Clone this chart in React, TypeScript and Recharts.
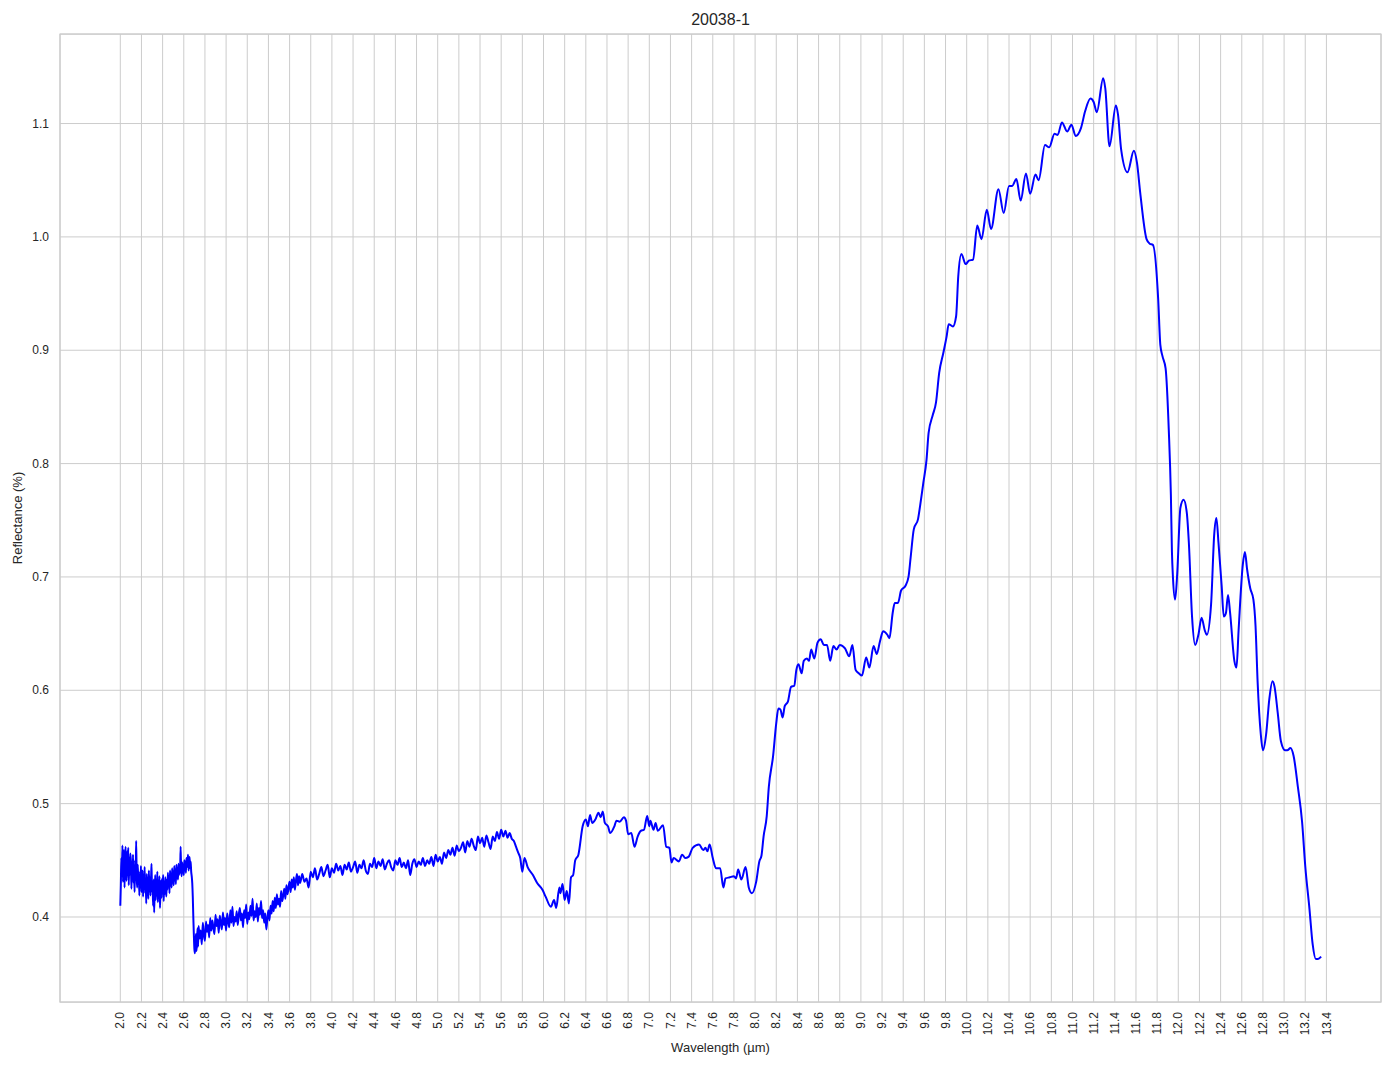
import React from "react";
import { CartesianGrid, Line, LineChart, ReferenceArea, XAxis, YAxis } from "recharts";

const FONT = '"Liberation Sans", Arial, sans-serif';
const TEXT = "#262626";
const GRID = "#cccccc";

// 2.000 – 2.735 µm, sampled every 0.005 µm (very noisy detector edge)
const shortwaveStart = 2.0;
const shortwaveStep = 0.005;
const shortwaveRefl = [
  0.41, 0.428, 0.452, 0.438, 0.463, 0.431, 0.447, 0.459, 0.426, 0.45,
  0.462, 0.44, 0.432, 0.458, 0.445, 0.461, 0.428, 0.452, 0.437, 0.456,
  0.449, 0.425, 0.444, 0.433, 0.455, 0.43, 0.441, 0.422, 0.45, 0.438,
  0.467, 0.434, 0.426, 0.446, 0.431, 0.44, 0.419, 0.437, 0.428, 0.445,
  0.422, 0.434, 0.441, 0.418, 0.436, 0.427, 0.444, 0.421, 0.433, 0.412,
  0.438, 0.425, 0.43, 0.416, 0.441, 0.423, 0.435, 0.419, 0.431, 0.447,
  0.422, 0.428, 0.41, 0.433, 0.404, 0.426, 0.437, 0.415, 0.429, 0.421,
  0.44, 0.413, 0.431, 0.419, 0.436, 0.408, 0.425, 0.432, 0.417, 0.434,
  0.423, 0.437, 0.414, 0.429, 0.42, 0.435, 0.426, 0.418, 0.433, 0.424,
  0.439, 0.427, 0.436, 0.421, 0.441, 0.43, 0.437, 0.426, 0.443, 0.432,
  0.438, 0.428, 0.445, 0.434, 0.441, 0.429, 0.446, 0.436, 0.442, 0.433,
  0.447, 0.437, 0.444, 0.439, 0.462, 0.441, 0.436, 0.448, 0.44, 0.446,
  0.437, 0.45, 0.443, 0.449, 0.439, 0.452, 0.444, 0.447, 0.455, 0.441,
  0.448, 0.453, 0.443, 0.449, 0.44, 0.436, 0.43, 0.418, 0.4, 0.385,
  0.372, 0.368, 0.375, 0.385, 0.37, 0.378, 0.39, 0.374,
];

// 2.74 – 3.70 µm, sampled every 0.01 µm
const nearIrStart = 2.74;
const nearIrStep = 0.01;
const nearIrRefl = [
  0.392, 0.381, 0.388, 0.376, 0.395, 0.384, 0.379, 0.396, 0.387, 0.393,
  0.382, 0.399, 0.388, 0.397, 0.39, 0.385, 0.402, 0.392, 0.398, 0.386,
  0.401, 0.395, 0.389, 0.404, 0.393, 0.399, 0.388, 0.403, 0.396, 0.391,
  0.406, 0.395, 0.409, 0.392, 0.4, 0.396, 0.405, 0.393, 0.402, 0.408,
  0.397, 0.403, 0.391, 0.406, 0.399, 0.411, 0.394, 0.404, 0.398, 0.41,
  0.401, 0.416, 0.397, 0.405, 0.4, 0.412, 0.396, 0.408, 0.402, 0.414,
  0.399, 0.406, 0.395, 0.403, 0.389, 0.399, 0.406, 0.397, 0.41, 0.403,
  0.414, 0.405, 0.417, 0.408, 0.42, 0.411, 0.416, 0.409, 0.423, 0.414,
  0.419, 0.425, 0.416, 0.428, 0.42, 0.426, 0.431, 0.422, 0.433, 0.426,
  0.435, 0.424, 0.432, 0.438, 0.428, 0.436, 0.43,
];

// 3.72 – 5.72 µm, sampled every 0.02 µm
const midwaveStart = 3.72;
const midwaveStep = 0.02;
const midwaveRefl = [
  0.438, 0.431, 0.434, 0.426, 0.44, 0.435, 0.443, 0.433, 0.438, 0.444,
  0.436, 0.441, 0.446, 0.435, 0.443, 0.439, 0.447, 0.441, 0.445, 0.437,
  0.446, 0.442, 0.448, 0.44, 0.444, 0.449, 0.439, 0.446, 0.443, 0.45,
  0.441, 0.438, 0.447, 0.444, 0.452, 0.443, 0.449, 0.445, 0.451, 0.442,
  0.447, 0.45, 0.444, 0.441, 0.45, 0.446, 0.452, 0.444, 0.448, 0.443,
  0.45, 0.437, 0.447, 0.451, 0.444, 0.449, 0.446, 0.452, 0.445, 0.45,
  0.447, 0.453, 0.445, 0.455, 0.449, 0.453, 0.447, 0.457, 0.452, 0.459,
  0.455, 0.461, 0.454, 0.463, 0.458, 0.461, 0.466, 0.457, 0.467, 0.462,
  0.469, 0.463, 0.459, 0.471, 0.465, 0.47, 0.462, 0.472, 0.466, 0.46,
  0.471, 0.467, 0.475, 0.469, 0.477, 0.471, 0.476, 0.47, 0.474, 0.469,
  0.467,
];

// 5.74 – 8.06 µm: dip and plateau
const dipWl = [
  5.74, 5.76, 5.78, 5.8, 5.82, 5.85, 5.9, 5.94, 5.99, 6.02, 6.07, 6.1, 6.12,
  6.15, 6.16, 6.18, 6.2, 6.22, 6.24, 6.26, 6.28, 6.3, 6.33, 6.37, 6.4, 6.42,
  6.44, 6.46, 6.49, 6.52, 6.54, 6.56, 6.58, 6.61, 6.63, 6.67, 6.69, 6.72,
  6.76, 6.78, 6.8, 6.83, 6.86, 6.89, 6.92, 6.95, 6.98, 7.0, 7.01, 7.04, 7.06,
  7.08, 7.13, 7.16, 7.19, 7.21, 7.23, 7.28, 7.31, 7.34, 7.37, 7.41, 7.47,
  7.51, 7.53, 7.55, 7.57, 7.6, 7.63, 7.67, 7.7, 7.72, 7.76, 7.8, 7.82, 7.84,
  7.87, 7.91, 7.94, 7.97, 8.01, 8.04, 8.06,
];
const dipRefl = [
  0.462, 0.457, 0.452, 0.44, 0.452, 0.444, 0.437, 0.43, 0.424, 0.418, 0.409,
  0.415, 0.408, 0.426, 0.421, 0.429, 0.415, 0.423, 0.412, 0.435, 0.437, 0.45,
  0.455, 0.48, 0.486, 0.48, 0.49, 0.483, 0.486, 0.492, 0.488, 0.493, 0.483,
  0.48, 0.474, 0.48, 0.485, 0.484, 0.488, 0.485, 0.473, 0.474, 0.462, 0.471,
  0.476, 0.477, 0.489, 0.48, 0.485, 0.477, 0.483, 0.476, 0.481, 0.462, 0.461,
  0.448, 0.452, 0.449, 0.455, 0.452, 0.453, 0.461, 0.464, 0.459, 0.461,
  0.458, 0.464, 0.452, 0.443, 0.443, 0.426, 0.434, 0.435, 0.436, 0.434,
  0.442, 0.433, 0.444, 0.426, 0.421, 0.431, 0.449, 0.454,
];

// 8.08 – 10.14 µm: steep rise
const riseWl = [
  8.08, 8.11, 8.13, 8.17, 8.2, 8.22, 8.24, 8.26, 8.28, 8.31, 8.34, 8.37, 8.39,
  8.41, 8.44, 8.46, 8.49, 8.51, 8.53, 8.56, 8.59, 8.62, 8.65, 8.68, 8.71,
  8.74, 8.77, 8.8, 8.85, 8.89, 8.92, 8.95, 8.98, 9.01, 9.05, 9.08, 9.12,
  9.15, 9.18, 9.21, 9.25, 9.27, 9.3, 9.32, 9.35, 9.38, 9.42, 9.45, 9.47, 9.5,
  9.54, 9.56, 9.59, 9.62, 9.64, 9.68, 9.71, 9.74, 9.78, 9.81, 9.83, 9.87,
  9.9, 9.92, 9.95, 9.99, 10.02, 10.06, 10.1, 10.14,
];
const riseRefl = [
  0.471, 0.489, 0.515, 0.542, 0.571, 0.584, 0.583, 0.576, 0.586, 0.59, 0.603,
  0.604, 0.618, 0.623, 0.615, 0.626, 0.628, 0.626, 0.636, 0.628, 0.642,
  0.645, 0.64, 0.64, 0.626, 0.639, 0.636, 0.64, 0.637, 0.63, 0.64, 0.618,
  0.615, 0.613, 0.629, 0.62, 0.639, 0.632, 0.643, 0.652, 0.649, 0.646,
  0.668, 0.677, 0.677, 0.688, 0.692, 0.7, 0.717, 0.742, 0.751, 0.763, 0.783,
  0.803, 0.827, 0.843, 0.854, 0.88, 0.898, 0.912, 0.923, 0.921, 0.93, 0.965,
  0.985, 0.976, 0.979, 0.98, 1.01, 0.998,
];

// 10.19 – 11.83 µm: reststrahlen maximum
const peakWl = [
  10.19, 10.23, 10.3, 10.35, 10.4, 10.43, 10.47, 10.51, 10.56, 10.6, 10.65,
  10.68, 10.74, 10.78, 10.83, 10.86, 10.9, 10.95, 10.99, 11.03, 11.08, 11.12,
  11.17, 11.2, 11.23, 11.29, 11.31, 11.35, 11.41, 11.43, 11.46, 11.52, 11.58,
  11.61, 11.64, 11.7, 11.73, 11.76, 11.81, 11.83,
];
const peakRefl = [
  1.024, 1.007, 1.042, 1.021, 1.045, 1.045, 1.051, 1.032, 1.056, 1.038, 1.055,
  1.05, 1.081, 1.079, 1.091, 1.09, 1.101, 1.093, 1.099, 1.089, 1.096, 1.111,
  1.122, 1.119, 1.11, 1.14, 1.131, 1.08, 1.116, 1.108, 1.077, 1.057, 1.076,
  1.065, 1.039, 0.998, 0.994, 0.993, 0.945, 0.905,
];

// 11.85 – 13.35 µm: fall-off
const tailWl = [
  11.85, 11.88, 11.91, 11.93, 11.94, 11.95, 11.97, 11.99, 12.02, 12.05, 12.08,
  12.1, 12.13, 12.16, 12.19, 12.22, 12.25, 12.27, 12.31, 12.34, 12.36, 12.38,
  12.41, 12.43, 12.45, 12.47, 12.49, 12.53, 12.55, 12.57, 12.61, 12.63, 12.65,
  12.68, 12.71, 12.73, 12.75, 12.78, 12.8, 12.83, 12.86, 12.89, 12.91, 12.94,
  12.97, 13.01, 13.03, 13.06, 13.09, 13.13, 13.17, 13.2, 13.24, 13.27, 13.3,
  13.32, 13.35,
];
const tailRefl = [
  0.895, 0.884, 0.83, 0.772, 0.722, 0.699, 0.68, 0.703, 0.761, 0.768, 0.757,
  0.73, 0.665, 0.64, 0.649, 0.664, 0.653, 0.649, 0.676, 0.738, 0.752, 0.73,
  0.692, 0.665, 0.668, 0.684, 0.668, 0.626, 0.62, 0.653, 0.711, 0.722, 0.707,
  0.69, 0.68, 0.657, 0.607, 0.561, 0.547, 0.561, 0.592, 0.608, 0.603, 0.58,
  0.555, 0.547, 0.547, 0.549, 0.542, 0.515, 0.484, 0.445, 0.407, 0.376,
  0.363, 0.363, 0.365,
];

const xTicks = [
  2.0, 2.2, 2.4, 2.6, 2.8, 3.0, 3.2, 3.4, 3.6, 3.8, 4.0, 4.2, 4.4, 4.6, 4.8,
  5.0, 5.2, 5.4, 5.6, 5.8, 6.0, 6.2, 6.4, 6.6, 6.8, 7.0, 7.2, 7.4, 7.6, 7.8,
  8.0, 8.2, 8.4, 8.6, 8.8, 9.0, 9.2, 9.4, 9.6, 9.8, 10.0, 10.2, 10.4, 10.6,
  10.8, 11.0, 11.2, 11.4, 11.6, 11.8, 12.0, 12.2, 12.4, 12.6, 12.8, 13.0,
  13.2, 13.4,
];
const yTicks = [0.4, 0.5, 0.6, 0.7, 0.8, 0.9, 1.0, 1.1];

const X_DOMAIN: [number, number] = [1.43, 13.916];
const Y_DOMAIN: [number, number] = [0.325, 1.179];

function sampled(start: number, step: number, values: number[]) {
  return values.map((refl, i) => ({ wl: +(start + i * step).toFixed(3), refl }));
}

function paired(wl: number[], refl: number[]) {
  return wl.map((w, i) => ({ wl: w, refl: refl[i] }));
}

const spectrum = [
  ...sampled(shortwaveStart, shortwaveStep, shortwaveRefl),
  ...sampled(nearIrStart, nearIrStep, nearIrRefl),
  ...sampled(midwaveStart, midwaveStep, midwaveRefl),
  ...paired(dipWl, dipRefl),
  ...paired(riseWl, riseRefl),
  ...paired(peakWl, peakRefl),
  ...paired(tailWl, tailRefl),
];

function XTick({ x, y, payload }: any) {
  const ty = y + 10;
  return (
    <text
      x={x}
      y={ty}
      transform={`rotate(-90, ${x}, ${ty})`}
      textAnchor="end"
      dy="0.35em"
      fontSize={12}
      fontFamily={FONT}
      fill={TEXT}
    >
      {Number(payload.value).toFixed(1)}
    </text>
  );
}

function YTick({ x, y, payload }: any) {
  return (
    <text
      x={x - 11}
      y={y}
      textAnchor="end"
      dy="0.35em"
      fontSize={12}
      fontFamily={FONT}
      fill={TEXT}
    >
      {Number(payload.value).toFixed(1)}
    </text>
  );
}

export default function App() {
  return (
    <div
      style={{
        position: "absolute",
        left: 0,
        top: 0,
        width: 1394,
        height: 1069,
        background: "#fff",
        fontFamily: FONT,
        color: TEXT,
      }}
    >
      <div
        style={{
          position: "absolute",
          top: 11,
          left: 60,
          width: 1321,
          textAlign: "center",
          fontSize: 16,
          lineHeight: "18px",
        }}
      >
        20038-1
      </div>
      <LineChart
        width={1394}
        height={1069}
        data={spectrum}
        margin={{ top: 34, right: 13, bottom: 0, left: 0 }}
      >
        <CartesianGrid stroke={GRID} strokeWidth={1} />
        <XAxis
          dataKey="wl"
          type="number"
          domain={X_DOMAIN}
          ticks={xTicks}
          allowDataOverflow
          interval={0}
          height={67}
          tickSize={0}
          tickMargin={0}
          tickLine={false}
          axisLine={false}
          tick={<XTick />}
        />
        <YAxis
          type="number"
          domain={Y_DOMAIN}
          ticks={yTicks}
          allowDataOverflow
          interval={0}
          width={60}
          tickSize={0}
          tickMargin={0}
          tickLine={false}
          axisLine={false}
          tick={<YTick />}
        />
        <ReferenceArea
          x1={X_DOMAIN[0]}
          x2={X_DOMAIN[1]}
          y1={Y_DOMAIN[0]}
          y2={Y_DOMAIN[1]}
          fill="none"
          stroke={GRID}
          strokeWidth={1.25}
          ifOverflow="visible"
        />
        <Line
          type="monotone"
          dataKey="refl"
          stroke="#0000ff"
          strokeWidth={2}
          dot={false}
          activeDot={false}
          isAnimationActive={false}
        />
      </LineChart>
      <div
        style={{
          position: "absolute",
          top: 1040,
          left: 60,
          width: 1321,
          textAlign: "center",
          fontSize: 13,
          lineHeight: "16px",
        }}
      >
        Wavelength (µm)
      </div>
      <div
        style={{
          position: "absolute",
          left: 18,
          top: 518,
          transform: "translate(-50%, -50%) rotate(-90deg)",
          whiteSpace: "nowrap",
          fontSize: 13,
          lineHeight: "16px",
        }}
      >
        Reflectance (%)
      </div>
    </div>
  );
}
